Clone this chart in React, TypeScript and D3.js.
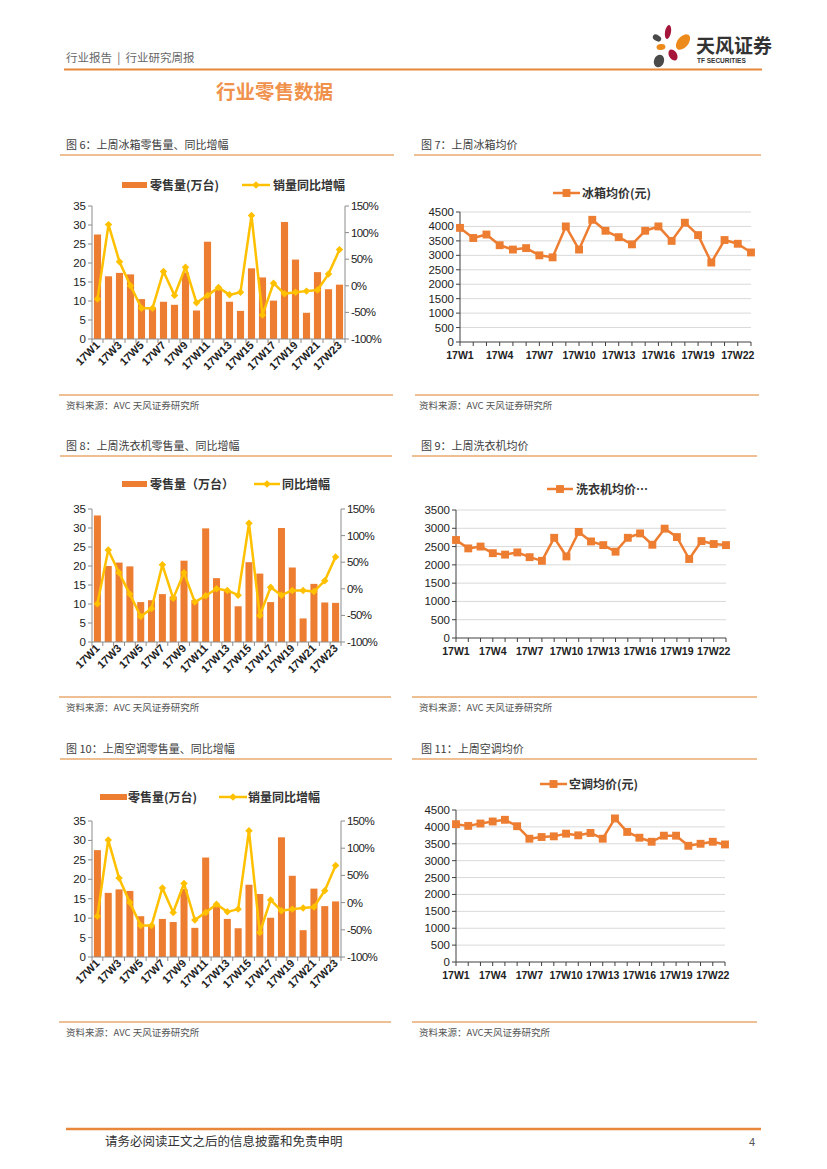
import * as d3 from "d3";
import React from "react";

const weeks = [
  "17W1", "17W2", "17W3", "17W4", "17W5", "17W6", "17W7", "17W8", "17W9", "17W10", "17W11", "17W12",
  "17W13", "17W14", "17W15", "17W16", "17W17", "17W18", "17W19", "17W20", "17W21", "17W22", "17W23",
];

// fridge
const fridgeSales = [27.5, 16.5, 17.4, 17.0, 10.5, 8.3, 9.8, 9.0, 17.5, 7.5, 25.6, 13.0, 9.8, 7.4, 18.6, 16.2, 10.1, 30.8, 20.9, 6.9, 17.6, 13.1, 14.3];
const fridgeYoY = [-0.25, 1.15, 0.45, 0.0, -0.42, -0.42, 0.27, -0.18, 0.35, -0.32, -0.18, -0.03, -0.17, -0.12, 1.32, -0.55, 0.05, -0.15, -0.12, -0.1, -0.08, 0.22, 0.68];
const fridgePrice = [3950, 3600, 3720, 3350, 3200, 3250, 3000, 2930, 4000, 3200, 4230, 3850, 3630, 3380, 3850, 4000, 3500, 4130, 3700, 2750, 3530, 3400, 3100];

// washer
const washerSales = [33.3, 20.0, 20.9, 19.9, 10.5, 11.0, 12.6, 12.0, 21.4, 11.0, 29.9, 16.8, 13.5, 9.4, 21.0, 18.0, 10.5, 30.0, 19.6, 6.2, 15.3, 10.4, 10.3];
const washerYoY = [-0.28, 0.73, 0.3, -0.1, -0.52, -0.37, 0.45, -0.18, 0.3, -0.25, -0.13, 0.0, -0.03, -0.12, 1.23, -0.5, 0.03, -0.12, -0.03, -0.03, -0.05, 0.15, 0.6];
const washerPrice = [2680, 2450, 2500, 2320, 2280, 2340, 2210, 2110, 2740, 2230, 2900, 2640, 2540, 2360, 2740, 2860, 2550, 2990, 2760, 2160, 2650, 2570, 2540];

// air conditioner
const acSales = [27.5, 16.5, 17.4, 17.0, 10.5, 8.3, 9.8, 9.0, 17.5, 7.5, 25.6, 13.0, 9.8, 7.4, 18.6, 16.2, 10.1, 30.8, 20.9, 6.9, 17.6, 13.1, 14.3];
const acYoY = [-0.25, 1.15, 0.45, 0.0, -0.42, -0.42, 0.27, -0.18, 0.35, -0.32, -0.18, -0.03, -0.17, -0.12, 1.32, -0.55, 0.05, -0.15, -0.12, -0.1, -0.08, 0.22, 0.68];
const acPrice = [4080, 4030, 4100, 4160, 4210, 4020, 3650, 3700, 3720, 3800, 3750, 3820, 3650, 4250, 3850, 3680, 3560, 3740, 3740, 3440, 3500, 3560, 3480];

const salesTicks = [0, 5, 10, 15, 20, 25, 30, 35];
const yoyTicks = [-1, -0.5, 0, 0.5, 1, 1.5];

const ORANGE = "#ED7D31";
const GOLD = "#FFC000";
const AXIS = "#8C8C8C";
const NUM = "'Liberation Sans', Arial, sans-serif";
const CJK = "'Noto Sans CJK SC', 'Noto Sans', sans-serif";

interface LegendKey { x0: number; x1: number; tx: number; label: string; }

interface ComboProps {
  sales: number[]; yoy: number[];
  left: number; right: number; top: number; bottom: number;
  legendY: number; barKey: LegendKey; lineKey: LegendKey;
}

const ComboChart: React.FC<ComboProps> = ({ sales, yoy, left, right, top, bottom, legendY, barKey, lineKey }) => {
  const x = d3.scaleBand<string>().domain(weeks).range([left, right]).paddingInner(0.35).paddingOuter(0.175);
  const yL = d3.scaleLinear().domain([0, 35]).range([bottom, top]);
  const yR = d3.scaleLinear().domain([-1, 1.5]).range([bottom, top]);
  const cx = (i: number) => x(weeks[i])! + x.bandwidth() / 2;
  const line = d3.line<number>().x((_, i) => cx(i)).y(d => yR(d));
  const diamond = d3.symbol(d3.symbolSquare, 28)()!;
  const step = x.step();

  return (
    <g>
      <rect x={barKey.x0} y={legendY - 3} width={barKey.x1 - barKey.x0} height={6} fill={ORANGE} />
      <text x={barKey.tx} y={legendY + 4.5} fontFamily={CJK} fontSize={12} fontWeight="bold" fill="#333">{barKey.label}</text>
      <line x1={lineKey.x0} x2={lineKey.x1} y1={legendY} y2={legendY} stroke={GOLD} strokeWidth={2.5} />
      <path d={diamond} transform={`translate(${(lineKey.x0 + lineKey.x1) / 2},${legendY}) rotate(45)`} fill={GOLD} />
      <text x={lineKey.tx} y={legendY + 4.5} fontFamily={CJK} fontSize={12} fontWeight="bold" fill="#333">{lineKey.label}</text>

      {sales.map((v, i) => (
        <rect key={i} x={x(weeks[i])} y={yL(v)} width={x.bandwidth()} height={bottom - yL(v)} fill={ORANGE} />
      ))}

      {/* left axis */}
      <line x1={left} x2={left} y1={top} y2={bottom} stroke={AXIS} />
      {salesTicks.map(t => (
        <g key={t}>
          <line x1={left - 4} x2={left} y1={yL(t)} y2={yL(t)} stroke={AXIS} />
          <text x={left - 6} y={yL(t) + 4} textAnchor="end" fontFamily={NUM} fontSize={11.5} fill="#222">{t}</text>
        </g>
      ))}
      {/* right axis */}
      <line x1={right} x2={right} y1={top} y2={bottom} stroke={AXIS} />
      {yoyTicks.map(t => (
        <g key={t}>
          <line x1={right} x2={right + 4} y1={yR(t)} y2={yR(t)} stroke={AXIS} />
          <text x={right + 6} y={yR(t) + 4} fontFamily={NUM} fontSize={11.5} fill="#222" letterSpacing={-0.6}>{`${Math.round(t * 100)}%`}</text>
        </g>
      ))}
      {/* bottom axis */}
      <line x1={left} x2={right} y1={bottom} y2={bottom} stroke={AXIS} />
      {weeks.map((_, i) => (
        <line key={i} x1={left + i * step} x2={left + i * step} y1={bottom} y2={bottom + 4} stroke={AXIS} />
      ))}
      <line x1={right} x2={right} y1={bottom} y2={bottom + 4} stroke={AXIS} />
      {weeks.map((w, i) => i % 2 === 0 ? (
        <text key={w} transform={`translate(${cx(i) + 3},${bottom + 7}) rotate(-45)`} textAnchor="end"
          fontFamily={NUM} fontSize={11} fontWeight="bold" fill="#222">{w}</text>
      ) : null)}

      <path d={line(yoy)!} fill="none" stroke={GOLD} strokeWidth={2.5} strokeLinejoin="round" />
      {yoy.map((v, i) => (
        <path key={i} d={diamond} transform={`translate(${cx(i)},${yR(v)}) rotate(45)`} fill={GOLD} />
      ))}
    </g>
  );
};

interface PriceProps {
  price: number[]; max: number;
  left: number; right: number; top: number; bottom: number;
  legendY: number; key0: LegendKey;
}

const PriceChart: React.FC<PriceProps> = ({ price, max, left, right, top, bottom, legendY, key0 }) => {
  const x = d3.scalePoint<string>().domain(weeks).range([left, right]).padding(0);
  const y = d3.scaleLinear().domain([0, max]).range([bottom, top]);
  const ticks = d3.range(0, max + 1, 500);
  const line = d3.line<number>().x((_, i) => x(weeks[i])!).y(d => y(d));
  const square = d3.symbol(d3.symbolSquare, 62)()!;

  return (
    <g>
      <line x1={key0.x0} x2={key0.x1} y1={legendY} y2={legendY} stroke={ORANGE} strokeWidth={2.5} />
      <path d={square} transform={`translate(${(key0.x0 + key0.x1) / 2},${legendY})`} fill={ORANGE} />
      <text x={key0.tx} y={legendY + 4.5} fontFamily={CJK} fontSize={12} fontWeight="bold" fill="#333">{key0.label}</text>

      {ticks.map(t => (
        <g key={t}>
          {t > 0 && <line x1={left} x2={right} y1={y(t)} y2={y(t)} stroke="#D9D9D9" />}
          <line x1={left - 4} x2={left} y1={y(t)} y2={y(t)} stroke="#404040" />
          <text x={left - 6} y={y(t) + 4} textAnchor="end" fontFamily={NUM} fontSize={11.5} fill="#222">{t}</text>
        </g>
      ))}
      <line x1={left} x2={left} y1={top} y2={bottom} stroke="#404040" />
      <line x1={left} x2={right} y1={bottom} y2={bottom} stroke="#404040" />
      {weeks.map(w => (
        <line key={w} x1={x(w)} x2={x(w)} y1={bottom} y2={bottom + 4} stroke="#404040" />
      ))}
      {weeks.map((w, i) => i % 3 === 0 ? (
        <text key={w} x={x(w)} y={bottom + 17} textAnchor="middle" fontFamily={NUM} fontSize={10.5} fontWeight="bold" fill="#222">{w}</text>
      ) : null)}

      <path d={line(price)!} fill="none" stroke={ORANGE} strokeWidth={2.5} strokeLinejoin="round" />
      {price.map((v, i) => (
        <path key={i} d={square} transform={`translate(${x(weeks[i])},${y(v)})`} fill={ORANGE} />
      ))}
    </g>
  );
};

const Caption: React.FC<{ x: number; y: number; x0: number; x1: number; text: string }> = ({ x, y, x0, x1, text }) => (
  <g>
    <text x={x} y={y + 4} fontFamily={CJK} fontSize={11} fill="#404040">{text}</text>
    <line x1={x0} x2={x1} y1={y + 10} y2={y + 10} stroke="#EDBF92" strokeWidth={2} />
  </g>
);

const Source: React.FC<{ x: number; y: number; x0: number; x1: number; text: string }> = ({ x, y, x0, x1, text }) => (
  <g>
    <line x1={x0} x2={x1} y1={y} y2={y} stroke="#EDBF92" strokeWidth={2} />
    <text x={x} y={y + 14} fontFamily={CJK} fontSize={9.5} fill="#555">{text}</text>
  </g>
);

const Logo: React.FC = () => (
  <g>
    <ellipse cx={668} cy={32} rx={3} ry={7} fill="#A6153A" transform="rotate(10,668,32)" />
    <ellipse cx={657} cy={38} rx={4.5} ry={3} fill="#4A4A4A" transform="rotate(30,657,38)" />
    <ellipse cx={683} cy={42} rx={5.5} ry={9} fill="#EC8A1C" transform="rotate(40,683,42)" />
    <ellipse cx={661} cy={47} rx={4.5} ry={3} fill="#EC8A1C" transform="rotate(-10,661,47)" />
    <ellipse cx={673} cy={55} rx={4} ry={6} fill="#A6153A" transform="rotate(-30,673,55)" />
    <ellipse cx={659} cy={61} rx={5} ry={6.5} fill="#4A4A4A" transform="rotate(20,659,61)" />
    <text x={696} y={53} fontFamily={CJK} fontSize={19} fontWeight="bold" fill="#333">天风证券</text>
    <text x={697} y={63} fontFamily={NUM} fontSize={6.5} fontWeight="bold" fill="#333">TF SECURITIES</text>
  </g>
);

const App: React.FC = () => {
  const src = "资料来源：AVC 天风证券研究所";
  return (
    <svg width={827} height={1169} style={{ position: "absolute", left: 0, top: 0, background: "white" }}>
      <text x={66} y={62} fontFamily={CJK} fontSize={11.5} fill="#666" xmlSpace="preserve">行业报告  |  行业研究周报</text>
      <Logo />
      <line x1={64} x2={762} y1={69.5} y2={69.5} stroke="#E8873A" strokeWidth={2} />
      <text x={216} y={99} fontFamily={CJK} fontSize={19.5} fontWeight="bold" fill="#F0924C">行业零售数据</text>

      <Caption x={66} y={145} x0={60} x1={394} text="图 6：上周冰箱零售量、同比增幅" />
      <Caption x={421} y={145} x0={414} x1={761} text="图 7：上周冰箱均价" />
      <ComboChart sales={fridgeSales} yoy={fridgeYoY} left={92} right={345} top={206} bottom={339} legendY={185}
        barKey={{ x0: 122, x1: 147, tx: 150, label: "零售量(万台)" }}
        lineKey={{ x0: 242, x1: 270, tx: 273, label: "销量同比增幅" }} />
      <PriceChart price={fridgePrice} max={4500} left={460} right={751} top={212} bottom={342} legendY={193}
        key0={{ x0: 553, x1: 580, tx: 582, label: "冰箱均价(元)" }} />
      <Source x={66} y={395} x0={59} x1={393} text={src} />
      <Source x={419} y={395} x0={415} x1={759} text={src} />

      <Caption x={66} y={446} x0={60} x1={392} text="图 8：上周洗衣机零售量、同比增幅" />
      <Caption x={421} y={446} x0={412} x1={757} text="图 9：上周洗衣机均价" />
      <ComboChart sales={washerSales} yoy={washerYoY} left={92} right={341} top={509} bottom={642} legendY={484}
        barKey={{ x0: 122, x1: 147, tx: 150, label: "零售量（万台）" }}
        lineKey={{ x0: 254, x1: 280, tx: 282, label: "同比增幅" }} />
      <PriceChart price={washerPrice} max={3500} left={456} right={726} top={510} bottom={638} legendY={489}
        key0={{ x0: 547, x1: 573, tx: 576, label: "洗衣机均价…" }} />
      <Source x={66} y={697} x0={59} x1={391} text={src} />
      <Source x={419} y={697} x0={412} x1={757} text="资料来源：AVC 天风证券研究所" />

      <Caption x={66} y={749} x0={60} x1={392} text="图 10：上周空调零售量、同比增幅" />
      <Caption x={421} y={749} x0={412} x1={757} text="图 11：上周空调均价" />
      <ComboChart sales={acSales} yoy={acYoY} left={92} right={341} top={821} bottom={957} legendY={797}
        barKey={{ x0: 100, x1: 127, tx: 128, label: "零售量(万台)" }}
        lineKey={{ x0: 219, x1: 247, tx: 248, label: "销量同比增幅" }} />
      <PriceChart price={acPrice} max={4500} left={456} right={725} top={810} bottom={962} legendY={784}
        key0={{ x0: 540, x1: 567, tx: 569, label: "空调均价(元)" }} />
      <Source x={66} y={1022} x0={59} x1={391} text={src} />
      <Source x={419} y={1022} x0={412} x1={757} text="资料来源：AVC天风证券研究所" />

      <line x1={66} x2={761} y1={1129} y2={1129} stroke="#E8873A" strokeWidth={2.5} />
      <text x={105} y={1146} fontFamily={CJK} fontSize={12.5} fill="#333">请务必阅读正文之后的信息披露和免责申明</text>
      <text x={755} y={1146} textAnchor="end" fontFamily={NUM} fontSize={11} fill="#555">4</text>
    </svg>
  );
};

export default App;
